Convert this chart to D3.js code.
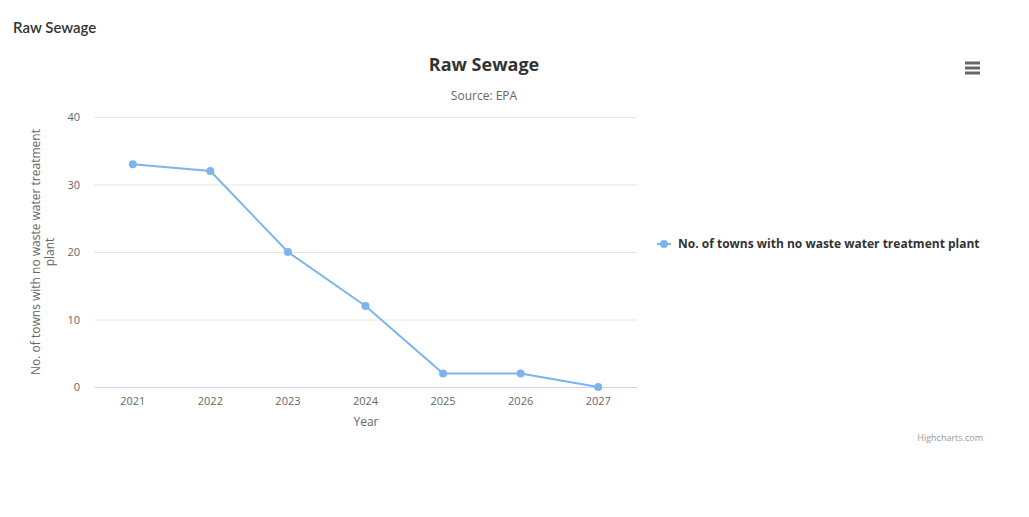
<!DOCTYPE html>
<meta charset="utf-8">
<style>
  body { margin: 0; background: #fff; }
  text { font-family: "Open Sans", "DejaVu Sans", sans-serif; }
</style>
<div id="chart"></div>
<script src="https://cdn.jsdelivr.net/npm/d3@7"></script>
<script>

// data
var years = ["2021", "2022", "2023", "2024", "2025", "2026", "2027"];
var towns = [33, 32, 20, 12, 2, 2, 0];
var yTicks = [0, 10, 20, 30, 40];
var seriesName = "No. of towns with no waste water treatment plant";

var svg = d3.select("#chart").append("svg")
    .attr("width", 1029)
    .attr("height", 517);

// page header
svg.append("text")
    .attr("x", 13)
    .attr("y", 33)
    .style("font", "600 15px Lato, sans-serif")
    .attr("fill", "#333")
    .text("Raw Sewage");

// chart title + subtitle
svg.append("text")
    .attr("x", 484)
    .attr("y", 71)
    .attr("text-anchor", "middle")
    .style("font-size", "18px")
    .style("font-weight", "bold")
    .attr("fill", "#333")
    .text("Raw Sewage");

svg.append("text")
    .attr("x", 484)
    .attr("y", 100)
    .attr("text-anchor", "middle")
    .style("font-size", "12px")
    .attr("fill", "#666")
    .text("Source: EPA");

// scales
var x = d3.scaleBand()
    .domain(years)
    .range([94, 637]);

var y = d3.scaleLinear()
    .domain([0, 40])
    .range([387, 117]);

// gridlines
svg.append("g")
    .selectAll("line")
    .data(yTicks.slice(1))
    .enter().append("line")
    .attr("x1", 94)
    .attr("x2", 637)
    .attr("y1", function(d) { return y(d) + 0.5; })
    .attr("y2", function(d) { return y(d) + 0.5; })
    .attr("stroke", "#e6e6e6");

// y axis labels
var yAxis = svg.append("g")
    .attr("transform", "translate(94,0)")
    .call(d3.axisLeft(y).tickValues(yTicks).tickSize(0).tickPadding(14));
yAxis.select(".domain").remove();
yAxis.selectAll("text")
    .style("font-size", "11px")
    .style("font-family", "'Open Sans', sans-serif")
    .attr("fill", "#666");

// x axis
var xAxis = svg.append("g")
    .attr("transform", "translate(0,387)")
    .call(d3.axisBottom(x).tickSize(0).tickPadding(10));
xAxis.select(".domain").attr("stroke", "#ccd6eb");
xAxis.selectAll("text")
    .style("font-size", "11px")
    .style("font-family", "'Open Sans', sans-serif")
    .attr("fill", "#666");

// axis titles
svg.append("text")
    .attr("x", 366)
    .attr("y", 426)
    .attr("text-anchor", "middle")
    .style("font-size", "12px")
    .attr("fill", "#666")
    .text("Year");

var yTitle = svg.append("text")
    .attr("transform", "translate(40,252) rotate(-90)")
    .attr("text-anchor", "middle")
    .style("font-size", "12px")
    .attr("fill", "#666");
yTitle.append("tspan").attr("x", 0).attr("dy", 0).text("No. of towns with no waste water treatment");
yTitle.append("tspan").attr("x", 0).attr("dy", 14).text("plant");

// line + markers
var cx = function(d, i) { return x(years[i]) + x.bandwidth() / 2; };
var line = d3.line()
    .x(cx)
    .y(function(d) { return y(d); });

svg.append("path")
    .datum(towns)
    .attr("fill", "none")
    .attr("stroke", "#7cb5ec")
    .attr("stroke-width", 2)
    .attr("d", line);

svg.selectAll(".dot")
    .data(towns)
    .enter().append("circle")
    .attr("class", "dot")
    .attr("cx", cx)
    .attr("cy", function(d) { return y(d); })
    .attr("r", 4)
    .attr("fill", "#7cb5ec");

// legend
var lg = svg.append("g").attr("transform", "translate(657,244)");
lg.append("line")
    .attr("x1", 0).attr("x2", 14)
    .attr("stroke", "#7cb5ec").attr("stroke-width", 2);
lg.append("circle")
    .attr("cx", 7).attr("r", 4).attr("fill", "#7cb5ec");
lg.append("text")
    .attr("x", 21)
    .attr("y", 4)
    .style("font-size", "12px")
    .style("font-weight", "bold")
    .attr("fill", "#333")
    .text(seriesName);

// menu button
svg.append("g")
    .selectAll("line")
    .data([63, 68, 73])
    .enter().append("line")
    .attr("x1", 965).attr("x2", 980)
    .attr("y1", function(d) { return d; })
    .attr("y2", function(d) { return d; })
    .attr("stroke", "#666")
    .attr("stroke-width", 3);

// credits
svg.append("text")
    .attr("x", 983)
    .attr("y", 441)
    .attr("text-anchor", "end")
    .style("font-size", "9px")
    .attr("fill", "#999")
    .text("Highcharts.com");
</script>
